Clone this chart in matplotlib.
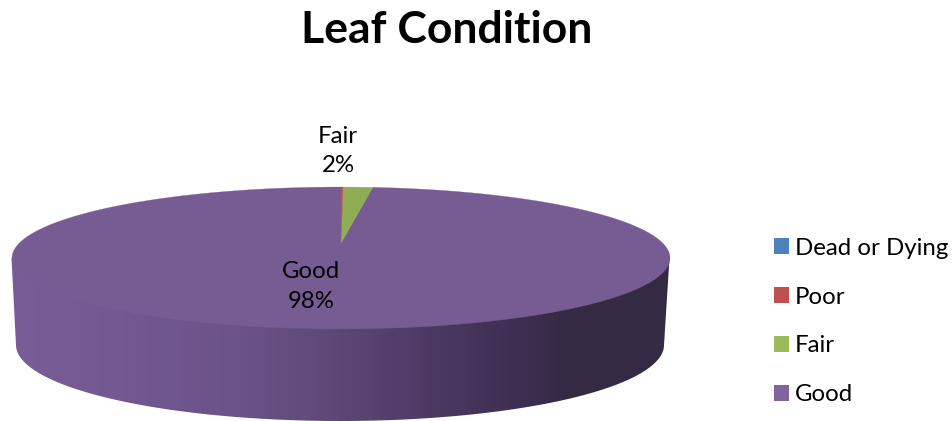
import numpy as np
import matplotlib
matplotlib.use("Agg")
import matplotlib.pyplot as plt
from matplotlib.colors import LinearSegmentedColormap
from matplotlib.patches import Patch, Polygon

plt.rcParams["font.family"] = ["Lato", "DejaVu Sans"]

categorias = ["Dead or Dying", "Poor", "Fair", "Good"]
valores = [0, 0.1, 1.8, 98.1]
etiquetas = {"Fair": "Fair\n2%", "Good": "Good\n98%"}

colores_leyenda = ["#4f81bd", "#c0504d", "#9bbb59", "#8064a2"]
colores_tapa = ["#4a76ab", "#c0504d", "#8fae53", "#775c93"]

# lado del disco, de izquierda a derecha
grad_x = [11, 120, 240, 340, 440, 520, 570, 670]
grad_color = ["#785d96", "#735891", "#6b5288", "#5d4777",
              "#4b3861", "#3e2f52", "#342a43", "#352b45"]


def proyectar(ang):
    # angulo desde las 12 en sentido horario, con perspectiva
    u = np.sin(ang)
    v = np.cos(ang)
    d = 1 + 0.211 * v
    return 341 + 321.6 * u / d, 243 - 67.8 * v / d


fig = plt.figure(figsize=(9.53, 4.21), dpi=100)
ax = fig.add_axes([0, 0, 1, 1])

# lado con degradado
t = np.linspace(0, np.pi, 200)
abajo_x = 340 - 324 * np.cos(t)
abajo_y = 345 + 76 * np.sin(t)
lado = np.column_stack([
    np.r_[11.5, abajo_x, 669.5],
    np.r_[258, abajo_y, 258],
])
pos = (np.array(grad_x) - grad_x[0]) / (grad_x[-1] - grad_x[0])
cmap = LinearSegmentedColormap.from_list("lado", list(zip(pos, grad_color)))
img = ax.imshow(np.linspace(0, 1, 400).reshape(1, -1), cmap=cmap, aspect="auto",
                extent=[11, 670, 425, 250], zorder=1)
img.set_clip_path(Polygon(lado, closed=True, transform=ax.transData))

# tapa: la rebanada grande primero para que no tape a las finas
acum = 0
total = sum(valores)
rebanadas = []
for valor, color in zip(valores, colores_tapa):
    if valor > 0:
        a = np.linspace(acum, acum + valor, 300) / total * 2 * np.pi
        px, py = proyectar(a)
        rebanadas.append((valor, np.r_[341, px], np.r_[243, py], color))
    acum += valor
for valor, px, py, color in sorted(rebanadas, key=lambda r: -r[0]):
    ax.fill(px, py, color=color, lw=0.2, zorder=2)

# etiquetas
ax.text(338, 151, etiquetas["Fair"], ha="center", va="center", fontsize=17.3,
        linespacing=1.5, color="black", zorder=3)
ax.text(311, 286.5, etiquetas["Good"], ha="center", va="center", fontsize=17.3,
        linespacing=1.5, color="black", zorder=3)

ax.text(447, 30, "Leaf Condition", ha="center", va="center", fontsize=32,
        fontweight="bold", color="black")

ax.set_xlim(0, 953)
ax.set_ylim(421, 0)
ax.axis("off")

handles = [Patch(facecolor=c, edgecolor="none") for c in colores_leyenda]
fig.legend(handles, categorias, loc="center left", bbox_to_anchor=(774 / 953, 1 - 321.5 / 421),
           frameon=False, fontsize=17.3, handlelength=0.63, handleheight=0.63,
           handletextpad=0.24, labelspacing=1.16, borderpad=0, borderaxespad=0)

plt.savefig("out.png", dpi=100)
